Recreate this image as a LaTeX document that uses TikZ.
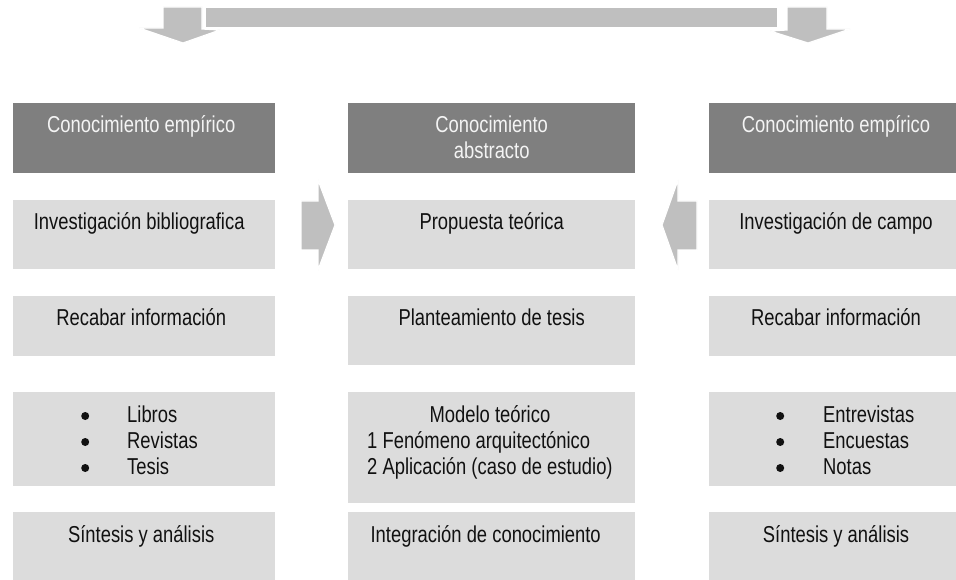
\documentclass[tikz,border=0pt]{standalone}
\usepackage{fontspec}
\setmainfont{Liberation Sans}[FakeStretch=0.8]
\usetikzlibrary{calc}
\definecolor{hdrgray}{HTML}{7F7F7F}
\definecolor{boxgray}{HTML}{DCDCDC}
\definecolor{arrgray}{HTML}{BFBFBF}
\definecolor{hdrtext}{HTML}{F4F4F4}
\definecolor{bodytext}{HTML}{111111}
\newcommand{\mybul}{\raisebox{2pt}{\tikz\fill[bodytext] (0pt,0pt) circle[radius=4pt];}}
\begin{document}
\begin{tikzpicture}[x=1pt,y=-1pt,
  hdrbox/.style={fill=hdrgray, draw=none, anchor=north west, inner sep=0, minimum height=70pt},
  lbox/.style={fill=boxgray, draw=none, anchor=north west, inner sep=0},
  txt/.style={inner sep=0, font=\fontsize{23}{26}\selectfont, text=bodytext},
  htxt/.style={txt, text=hdrtext},
  blockarrow/.style={fill=arrgray, draw=white, line width=1.2pt, line join=miter}
]
\clip (0,0) rectangle (956,580);
\fill[white] (0,0) rectangle (956,580);

% top bent arrow
\draw[blockarrow] (163,7) -- (202,7) -- (202,29) -- (220,30) -- (183,43) -- (139,28) -- (163,28) -- cycle;
\draw[blockarrow] (787,7) -- (827,7) -- (827,29) -- (850,29) -- (808,43) -- (770,31) -- (787,30) -- cycle;
\draw[blockarrow] (205,7) rectangle (778,28);

% left column
\node[hdrbox, minimum width=262pt] (L1) at (13,103) {};
\node[lbox, minimum width=262pt, minimum height=69pt] (L2) at (13,200) {};
\node[lbox, minimum width=262pt, minimum height=60pt] (L3) at (13,296) {};
\node[lbox, minimum width=262pt, minimum height=94pt] (L4) at (13,392) {};
\node[lbox, minimum width=262pt, minimum height=70pt] (L5) at (13,512) {};

% middle column
\node[hdrbox, minimum width=287pt] (M1) at (348,103) {};
\node[lbox, minimum width=287pt, minimum height=69pt] (M2) at (348,200) {};
\node[lbox, minimum width=287pt, minimum height=69pt] (M3) at (348,296) {};
\node[lbox, minimum width=287pt, minimum height=111pt] (M4) at (348,392) {};
\node[lbox, minimum width=287pt, minimum height=70pt] (M5) at (348,512) {};

% right column
\node[hdrbox, minimum width=261pt] (R1) at (709,103) {};
\node[lbox, minimum width=261pt, minimum height=69pt] (R2) at (709,200) {};
\node[lbox, minimum width=261pt, minimum height=60pt] (R3) at (709,296) {};
\node[lbox, minimum width=261pt, minimum height=94pt] (R4) at (709,392) {};
\node[lbox, minimum width=261pt, minimum height=70pt] (R5) at (709,512) {};

% side block arrows
\draw[blockarrow] (301,201) -- (318,201) -- (318,180) -- (335,225) -- (318,270) -- (318,250) -- (301,250) -- cycle;
\draw[blockarrow] (697,201) -- (678,201) -- (678,180) -- (662,225) -- (678,270) -- (678,250) -- (697,250) -- cycle;

% left texts
\node[htxt, anchor=base] (tL1) at ($(L1.north)+(-3,30)$) {Conocimiento empírico};
\node[txt, anchor=base] (tL2) at ($(L2.north)+(-5,30)$) {Investigación bibliografica};
\node[txt, anchor=base] (tL3) at ($(L3.north)+(-3,29)$) {Recabar información};
\node[txt, anchor=base west] (tL4) at (81,422) {\begin{tabular}[t]{@{}l@{\hspace{38pt}}l@{}}\mybul&Libros\\\mybul&Revistas\\\mybul&Tesis\end{tabular}};
\node[txt, anchor=base] (tL5) at ($(L5.north)+(-3,30)$) {Síntesis y análisis};

% middle texts
\node[htxt, anchor=base] (tM1) at ($(M1.north)+(0,30)$) {\begin{tabular}[t]{@{}c@{}}Conocimiento\\abstracto\end{tabular}};
\node[txt, anchor=base] (tM2) at ($(M2.north)+(0,30)$) {Propuesta teórica};
\node[txt, anchor=base] (tM3) at ($(M3.north)+(0,29)$) {Planteamiento de tesis};
\node[txt, anchor=base west] (tM4) at (367,422) {\begin{tabular}[t]{@{}l@{}}\multicolumn{1}{@{}c@{}}{Modelo teórico}\\1 Fenómeno arquitectónico\\2 Aplicación (caso de estudio)\end{tabular}};
\node[txt, anchor=base] (tM5) at ($(M5.north)+(-6,30)$) {Integración de conocimiento};

% right texts
\node[htxt, anchor=base] (tR1) at (836,133) {Conocimiento empírico};
\node[txt, anchor=base] (tR2) at (836,230) {Investigación de campo};
\node[txt, anchor=base] (tR3) at (836,325) {Recabar información};
\node[txt, anchor=base west] (tR4) at (776,422) {\begin{tabular}[t]{@{}l@{\hspace{39pt}}l@{}}\mybul&Entrevistas\\\mybul&Encuestas\\\mybul&Notas\end{tabular}};
\node[txt, anchor=base] (tR5) at (836,542) {Síntesis y análisis};
\end{tikzpicture}
\end{document}
